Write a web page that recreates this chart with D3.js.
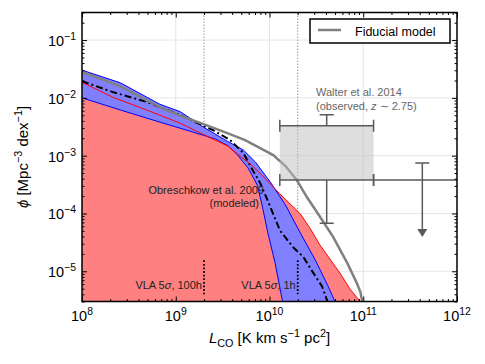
<!DOCTYPE html>
<html>
<head>
<meta charset="utf-8">
<script src="https://cdn.jsdelivr.net/npm/d3@7"></script>
<style>
  body { margin: 0; background: #fff; }
  text { font-family: "Liberation Sans", Arial, sans-serif; }
</style>
</head>
<body>
<svg width="485" height="364"></svg>
<script>
// Data (log10 L_CO, log10 phi)
var fidLogL   = [8.0, 8.41, 8.83, 9.05, 9.29, 9.55, 9.74, 9.90, 10.04, 10.17, 10.29, 10.40, 10.54, 10.68, 10.83, 10.93, 10.97, 10.99];
var fidLogPhi = [-1.55, -1.80, -2.16, -2.31, -2.45, -2.61, -2.73, -2.87, -2.99, -3.18, -3.42, -3.72, -4.06, -4.41, -4.86, -5.20, -5.36, -5.53];

var bandUpLogL   = [8.0, 8.41, 8.83, 9.05, 9.29, 9.55, 9.72, 9.85, 10.01, 10.17, 10.33, 10.49, 10.62, 10.70];
var bandUpLogPhi = [-1.52, -1.74, -2.11, -2.24, -2.50, -2.75, -2.90, -3.11, -3.46, -3.85, -4.34, -4.81, -5.24, -5.53];
var bandLoLogL   = [8.0, 8.41, 8.83, 9.18, 9.42, 9.56, 9.66, 9.77, 9.87, 9.92, 9.98, 10.06, 10.14];
var bandLoLogPhi = [-2.00, -2.21, -2.42, -2.59, -2.71, -2.83, -2.99, -3.21, -3.51, -3.85, -4.32, -4.86, -5.53];

var midLogL   = [8.0, 8.33, 8.69, 9.05, 9.40, 9.58, 9.72, 9.82, 9.90, 10.01, 10.11, 10.25, 10.36, 10.46, 10.56, 10.62];
var midLogPhi = [-1.71, -1.90, -2.07, -2.30, -2.56, -2.73, -2.95, -3.25, -3.47, -3.89, -4.29, -4.58, -4.75, -5.01, -5.26, -5.53];

var obrLogL   = [8.0, 8.33, 8.69, 9.05, 9.29, 9.55, 9.82, 9.97, 10.11, 10.33, 10.43, 10.54, 10.75, 10.86, 10.97];
var obrLogPhi = [-1.73, -1.99, -2.21, -2.44, -2.63, -2.83, -3.18, -3.42, -3.66, -4.01, -4.25, -4.55, -5.03, -5.31, -5.53];

// Walter et al. 2014 bins
var walterBinLo  = [10.11, 11.11];
var walterBinHi  = [11.11, 12.14];
var walterMid    = [10.61, 11.63];
var walterTop    = [3.3e-3, null];
var walterBot    = [3.8e-4, 3.8e-4];
var walterErrUp  = [5.1e-3, 7.5e-4];
var walterErrDn  = [6.8e-5, 3.9e-5];
var walterLimit  = [false, true];

// VLA limits
var vlaL = [2e9, 2e10];
var vlaLabels = ["100h", "1h"];
var vlaPhiRange = [4e-6, 1.55e-5];

var xTickExp = [8, 9, 10, 11, 12];
var yTickExp = [-5, -4, -3, -2, -1];

// Helpers
var pts = function(lx, ly) {
  return lx.map(function(v, k) { return [Math.pow(10, v), Math.pow(10, ly[k])]; });
};

var rich = function(sel, parts, size) {
  var shift = 0;
  parts.forEach(function(p) {
    var target = p.sup ? -0.42 * size : (p.sub ? 0.25 * size : 0);
    var ts = sel.append("tspan").text(p.t).attr("dy", target - shift);
    if (p.sup || p.sub) ts.attr("font-size", size * 0.72);
    if (p.it) ts.attr("font-style", "italic");
    shift = target;
  });
};

var L = 82, R = 457, T = 12.5, B = 301.5;
var x = d3.scaleLog().domain([1e8, 1e12]).range([L, R]);
var y = d3.scaleLog().domain([3e-6, 0.3]).range([B, T]);

var svg = d3.select("svg");
svg.append("defs").append("clipPath").attr("id", "clip")
   .append("rect").attr("x", L).attr("y", T).attr("width", R - L).attr("height", B - T);

// grid
var grid = svg.append("g");
grid.selectAll(".gx").data(xTickExp.slice(1, -1)).enter().append("line")
  .attr("x1", d => x(Math.pow(10, d))).attr("x2", d => x(Math.pow(10, d)))
  .attr("y1", T).attr("y2", B).attr("stroke", "#e6e6e6").attr("stroke-width", 1);
grid.selectAll(".gy").data(yTickExp).enter().append("line")
  .attr("y1", d => y(Math.pow(10, d))).attr("y2", d => y(Math.pow(10, d)))
  .attr("x1", L).attr("x2", R).attr("stroke", "#e6e6e6").attr("stroke-width", 1);

var plot = svg.append("g").attr("clip-path", "url(#clip)");

// grey dotted VLA lines (behind fills)
plot.selectAll(".vd").data(vlaL).enter().append("line")
  .attr("x1", d => x(d)).attr("x2", d => x(d)).attr("y1", T).attr("y2", B)
  .attr("stroke", "#999").attr("stroke-width", 1).attr("stroke-dasharray", "1.5,1.5");

var line = d3.line().x(d => x(d[0])).y(d => y(d[1]));

// red fill (Obreschkow)
var obr = pts(obrLogL, obrLogPhi);
var area = d3.area().x(d => x(d[0])).y0(B + 2).y1(d => y(d[1]));
plot.append("path").datum(obr).attr("d", area).attr("fill", "#ff8080");

// blue band
var bandUp = pts(bandUpLogL, bandUpLogPhi);
var bandLo = pts(bandLoLogL, bandLoLogPhi);
plot.append("path").datum(bandUp.concat(bandLo.slice().reverse()))
  .attr("d", d => line(d) + "Z").attr("fill", "#8080ff");
[bandUp, bandLo].forEach(function(b) {
  plot.append("path").datum(b).attr("d", line)
    .attr("fill", "none").attr("stroke", "#0000ff").attr("stroke-width", 1);
});

// red line
plot.append("path").datum(obr).attr("d", line)
  .attr("fill", "none").attr("stroke", "#ff0000").attr("stroke-width", 1);

// black dash-dot
plot.append("path").datum(pts(midLogL, midLogPhi)).attr("d", line)
  .attr("fill", "none").attr("stroke", "#000").attr("stroke-width", 2)
  .attr("stroke-dasharray", "7,3,2,3");

// fiducial model
plot.append("path").datum(pts(fidLogL, fidLogPhi)).attr("d", line)
  .attr("fill", "none").attr("stroke", "#808080").attr("stroke-width", 2.5);

// black dotted VLA segments
plot.selectAll(".vb").data(vlaL).enter().append("line")
  .attr("x1", d => x(d)).attr("x2", d => x(d))
  .attr("y1", y(vlaPhiRange[1])).attr("y2", y(vlaPhiRange[0]))
  .attr("stroke", "#000").attr("stroke-width", 1.8).attr("stroke-dasharray", "1.8,1.8");

// Walter et al. 2014
var wc = "#595959";
var wg = plot.append("g").attr("stroke", wc).attr("stroke-width", 1.5).attr("fill", "none");
walterMid.forEach(function(m, k) {
  var x0 = x(Math.pow(10, walterBinLo[k])), x1 = x(Math.pow(10, walterBinHi[k]));
  var xm = x(Math.pow(10, m));
  var yb = y(walterBot[k]);
  if (walterTop[k] !== null) {
    var yt = y(walterTop[k]);
    wg.append("rect").attr("x", x0).attr("y", yt).attr("width", x1 - x0).attr("height", yb - yt)
      .attr("fill", "#bdbdbd").attr("fill-opacity", 0.5).attr("stroke", "none");
    wg.append("line").attr("x1", x0).attr("x2", x1).attr("y1", yt).attr("y2", yt);
    [x0, x1].forEach(function(c) {
      wg.append("line").attr("x1", c).attr("x2", c).attr("y1", yt - 6).attr("y2", yt + 6);
    });
    wg.append("line").attr("x1", xm).attr("x2", xm).attr("y1", yt).attr("y2", y(walterErrUp[k]));
  } else {
    wg.append("line").attr("x1", xm).attr("x2", xm).attr("y1", yb).attr("y2", y(walterErrUp[k]));
  }
  wg.append("line").attr("x1", xm - 7).attr("x2", xm + 7)
    .attr("y1", y(walterErrUp[k])).attr("y2", y(walterErrUp[k]));
  wg.append("line").attr("x1", x0).attr("x2", x1).attr("y1", yb).attr("y2", yb);
  [x0, x1].forEach(function(c) {
    wg.append("line").attr("x1", c).attr("x2", c).attr("y1", yb - 6).attr("y2", yb + 6);
  });
  var yd = y(walterErrDn[k]);
  if (walterLimit[k]) {
    wg.append("line").attr("x1", xm).attr("x2", xm).attr("y1", yb).attr("y2", yd - 6);
    wg.append("path").attr("d", "M" + (xm - 5) + "," + (yd - 8) + "L" + (xm + 5) + "," + (yd - 8) + "L" + xm + "," + yd + "Z")
      .attr("fill", wc).attr("stroke", "none");
  } else {
    wg.append("line").attr("x1", xm).attr("x2", xm).attr("y1", yb).attr("y2", yd);
    wg.append("line").attr("x1", xm - 7).attr("x2", xm + 7).attr("y1", yd).attr("y2", yd);
  }
});

// ticks
var minor = function(lo, hi) {
  var out = [];
  for (var e = lo; e < hi; e++) for (var m = 1; m < 10; m++) out.push(m * Math.pow(10, e));
  return out;
};
var xMinor = minor(8, 12).filter(v => v <= 1e12 && Math.abs(Math.log10(v) % 1) > 1e-9);
var yMinor = minor(-6, 0).filter(v => v >= 2.99e-6 && v <= 0.301 && Math.abs(Math.log10(v) - Math.round(Math.log10(v))) > 1e-9);
var xMajor = xTickExp.map(e => Math.pow(10, e));
var yMajor = yTickExp.map(e => Math.pow(10, e));

var tickG = function(axis, tx, ty) {
  var g = svg.append("g").attr("transform", "translate(" + tx + "," + ty + ")").call(axis);
  g.select(".domain").remove();
  g.selectAll("text").remove();
  g.selectAll("line").attr("stroke", "#000").attr("stroke-width", 1);
};
[[d3.axisBottom, 0, B], [d3.axisTop, 0, T]].forEach(function(a) {
  tickG(a[0](x).tickValues(xMajor).tickSizeInner(-5).tickSizeOuter(0), a[1], a[2]);
  tickG(a[0](x).tickValues(xMinor).tickSizeInner(-2.5).tickSizeOuter(0), a[1], a[2]);
});
[[d3.axisLeft, L, 0], [d3.axisRight, R, 0]].forEach(function(a) {
  tickG(a[0](y).tickValues(yMajor).tickSizeInner(-5).tickSizeOuter(0), a[1], a[2]);
  tickG(a[0](y).tickValues(yMinor).tickSizeInner(-2.5).tickSizeOuter(0), a[1], a[2]);
});

// frame
svg.append("rect").attr("x", L).attr("y", T).attr("width", R - L).attr("height", B - T)
  .attr("fill", "none").attr("stroke", "#000").attr("stroke-width", 1.5);

// tick labels
xTickExp.forEach(function(e) {
  var t = svg.append("text").attr("x", x(Math.pow(10, e))).attr("y", 321)
    .attr("text-anchor", "middle").attr("font-size", 14.5).attr("fill", "#000");
  rich(t, [{t: "10"}, {t: String(e), sup: true}], 14.5);
});
yTickExp.forEach(function(e) {
  var t = svg.append("text").attr("x", 76).attr("y", y(Math.pow(10, e)) + 6)
    .attr("text-anchor", "end").attr("font-size", 14.5).attr("fill", "#000");
  rich(t, [{t: "10"}, {t: "\u2212" + Math.abs(e), sup: true}], 14.5);
});

// axis labels
var xl = svg.append("text").attr("x", (L + R) / 2).attr("y", 343)
  .attr("text-anchor", "middle").attr("font-size", 15);
rich(xl, [{t: "L", it: true}, {t: "CO", sub: true}, {t: " [K km s"}, {t: "\u22121", sup: true}, {t: " pc"}, {t: "2", sup: true}, {t: "]"}], 15);

var yl = svg.append("text").attr("transform", "translate(28," + ((T + B) / 2) + ") rotate(-90)")
  .attr("text-anchor", "middle").attr("font-size", 15);
rich(yl, [{t: "\u03d5", it: true}, {t: " [Mpc"}, {t: "\u22123", sup: true}, {t: " dex"}, {t: "\u22121", sup: true}, {t: "]"}], 15);

// annotations
svg.append("text").attr("x", 316).attr("y", 96).attr("font-size", 11).attr("fill", "#666")
  .text("Walter et al. 2014");
var wt = svg.append("text").attr("x", 316).attr("y", 110).attr("font-size", 11).attr("fill", "#666");
rich(wt, [{t: "(observed, "}, {t: "z", it: true}, {t: " \u223c 2.75)"}], 11);

svg.append("text").attr("x", 264).attr("y", 194).attr("text-anchor", "end")
  .attr("font-size", 11).attr("fill", "#222").text("Obreschkow et al. 2009");
svg.append("text").attr("x", 259).attr("y", 207).attr("text-anchor", "end")
  .attr("font-size", 11).attr("fill", "#222").text("(modeled)");

vlaL.forEach(function(v, k) {
  var t = svg.append("text").attr("x", x(v) - 2).attr("y", 289).attr("text-anchor", "end")
    .attr("font-size", 11).attr("fill", "#222");
  rich(t, [{t: "VLA 5"}, {t: "\u03c3", it: true}, {t: ", " + vlaLabels[k]}], 11);
});

// legend
var lg = svg.append("g");
lg.append("rect").attr("x", 310).attr("y", 19).attr("width", 140).attr("height", 24)
  .attr("fill", "#fff").attr("stroke", "#000").attr("stroke-width", 1.5);
lg.append("line").attr("x1", 318).attr("x2", 341).attr("y1", 30).attr("y2", 30)
  .attr("stroke", "#808080").attr("stroke-width", 2.5);
lg.append("text").attr("x", 355).attr("y", 35.5).attr("font-size", 12.5).text("Fiducial model");
</script>
</body>
</html>
